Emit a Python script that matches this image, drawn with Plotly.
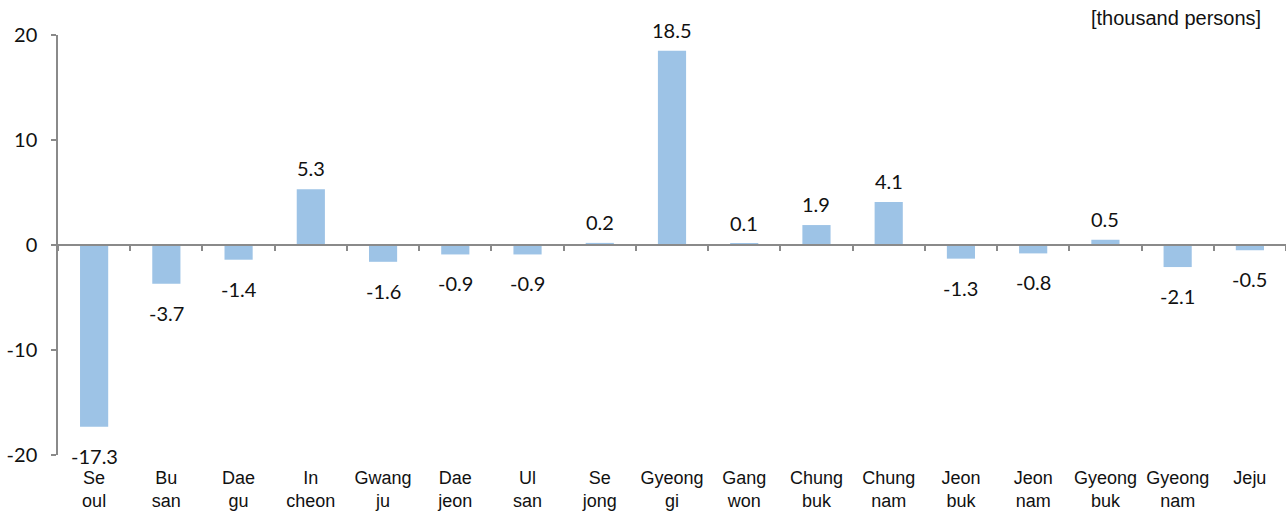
import plotly.graph_objects as go

categories = ["Se<br>oul", "Bu<br>san", "Dae<br>gu", "In<br>cheon", "Gwang<br>ju", "Dae<br>jeon",
              "Ul<br>san", "Se<br>jong", "Gyeong<br>gi", "Gang<br>won", "Chung<br>buk", "Chung<br>nam",
              "Jeon<br>buk", "Jeon<br>nam", "Gyeong<br>buk", "Gyeong<br>nam", "Jeju"]
values = [-17.3, -3.7, -1.4, 5.3, -1.6, -0.9, -0.9, 0.2, 18.5, 0.1, 1.9, 4.1, -1.3, -0.8, 0.5, -2.1, -0.5]
y_ticks = [-20, -10, 0, 10, 20]
unit_label = "[thousand persons]"

axis_grey = "#8a8a8a"
bar_color = "#9dc3e6"
label_font = dict(family="Lato", size=20, color="#111111")

fig = go.Figure()
fig.add_trace(go.Bar(
    x=categories, y=values,
    marker=dict(color=bar_color, line=dict(width=0)),
    width=0.39, hoverinfo="x+y",
))
# transparent copy on the overlaid axis that draws the zero line with boundary ticks
fig.add_trace(go.Bar(
    x=categories, y=values, xaxis="x2",
    marker=dict(color="rgba(0,0,0,0)", line=dict(width=0)),
    width=0.39, hoverinfo="skip",
))

annotations = []
for c, v in zip(categories, values):
    annotations.append(dict(
        x=c, y=v, xref="x", yref="y", text=f"{v:.1f}", showarrow=False,
        xanchor="center", yanchor="middle", yshift=21 if v >= 0 else -29,
        font=label_font,
    ))
annotations.append(dict(
    text=unit_label, xref="paper", yref="paper", x=0.981, y=1.04,
    xanchor="right", yanchor="middle", showarrow=False,
    font=dict(family="Liberation Sans", size=20, color="#111111"),
))

fig.update_layout(
    width=1286, height=515,
    margin=dict(l=58, r=0, t=35, b=60),
    paper_bgcolor="white", plot_bgcolor="white",
    showlegend=False,
    xaxis=dict(
        type="category",
        showline=False, showgrid=False, zeroline=False,
        ticks="", ticklabelstandoff=10,
        tickfont=dict(family="Liberation Sans", size=18, color="#111111"),
        range=[-0.5, 16.5],
    ),
    xaxis2=dict(
        type="category", overlaying="x", anchor="free", position=0.5,
        range=[-0.5, 16.5], tickson="boundaries",
        showline=True, linecolor=axis_grey, linewidth=1.5,
        ticks="outside", ticklen=5, tickcolor=axis_grey, tickwidth=1.5,
        showticklabels=False, showgrid=False, zeroline=False,
    ),
    yaxis=dict(
        range=[-20, 20], tickvals=y_ticks, ticktext=[str(t) for t in y_ticks],
        showgrid=False, zeroline=False,
        showline=True, linecolor=axis_grey, linewidth=1.5,
        ticks="outside", ticklen=5, tickcolor=axis_grey, tickwidth=1.5,
        ticklabelstandoff=10,
        tickfont=dict(family="Lato", size=20, color="#111111"),
    ),
    annotations=annotations,
)

fig.write_html("out.html", config={"displayModeBar": False},
               post_script="document.body.style.margin='0';")
